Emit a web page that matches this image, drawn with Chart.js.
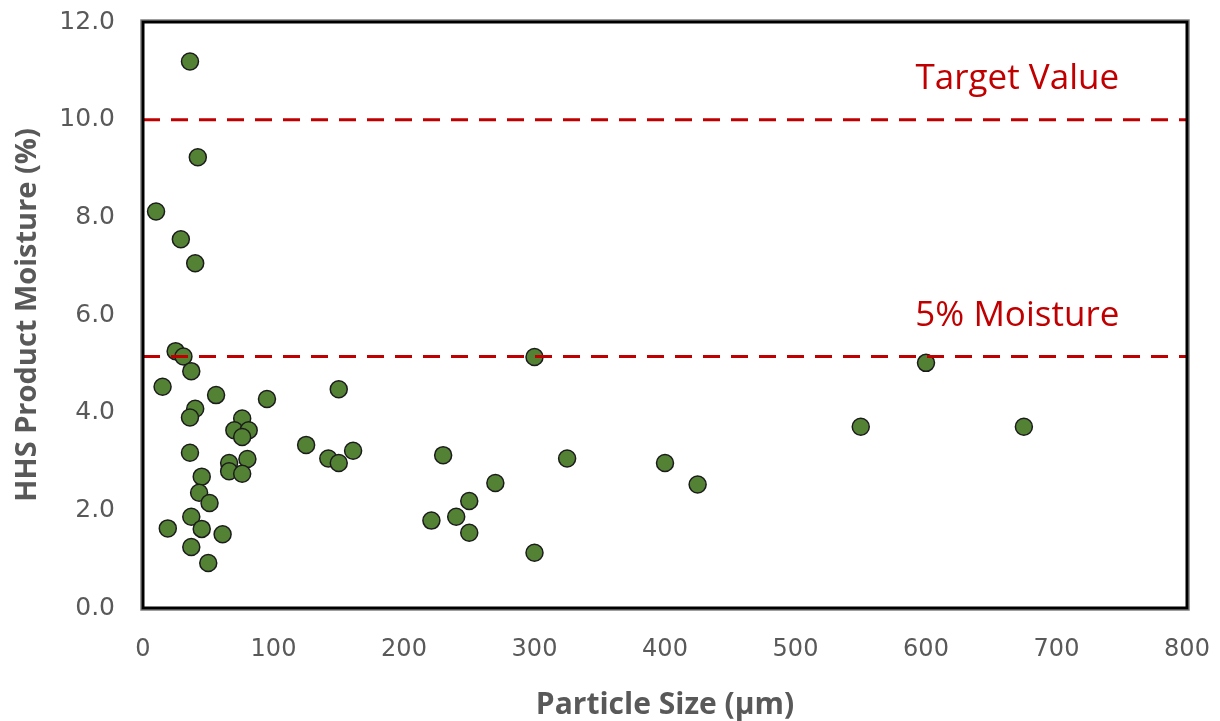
<!DOCTYPE html>
<html>
<head>
<meta charset="utf-8">
<script src="https://cdn.jsdelivr.net/npm/chart.js@4"></script>
<style>
  html, body { margin: 0; background: #fff; }
</style>
</head>
<body>
<canvas id="chart" width="1220" height="721"></canvas>
<script>
// particle size (um) and HHS product moisture (%)
const particleSize = [
  10, 29, 40, 25, 31, 37, 15, 56, 95, 40,
  36, 76, 70, 81, 76, 125, 36, 66, 80, 66,
  76, 45, 43, 51, 37, 19, 45, 61, 37, 50,
  36, 42, 150, 142, 150, 161, 300, 230, 325, 270,
  250, 240, 221, 250, 300, 400, 425, 550, 600, 675
];
const moisture = [
  8.12, 7.55, 7.06, 5.26, 5.15, 4.85, 4.53, 4.36, 4.28, 4.08,
  3.90, 3.88, 3.64, 3.64, 3.50, 3.34, 3.18, 2.97, 3.05, 2.80,
  2.75, 2.69, 2.36, 2.15, 1.87, 1.63, 1.62, 1.51, 1.25, 0.92,
  11.19, 9.23, 4.48, 3.06, 2.97, 3.22, 5.14, 3.13, 3.06, 2.56,
  2.19, 1.87, 1.79, 1.54, 1.13, 2.97, 2.53, 3.71, 5.02, 3.71
];
const refLevels = [10, 5.15];
const refLabels = ['Target Value', '5% Moisture'];
const xRange = [0, 800];
const yRange = [0, 12];

const points = particleSize.map((x, i) => ({ x: x, y: moisture[i] }));

const refSets = refLevels.map(level => ({
  type: 'line',
  data: [{ x: xRange[0], y: level }, { x: xRange[1], y: level }],
  borderColor: '#c00000',
  borderWidth: 3,
  borderDash: [17, 11],
  pointRadius: 0,
  fill: false,
  order: 0
}));

const boxAndLabels = {
  id: 'boxAndLabels',
  afterDatasetsDraw(chart) {
    const ctx = chart.ctx;
    const a = chart.chartArea;
    const xs = chart.scales.x, ys = chart.scales.y;
    ctx.save();
    // plot frame: black with a thin grey edge outside
    ctx.strokeStyle = '#808080';
    ctx.lineWidth = 1.5;
    ctx.strokeRect(a.left - 2, a.top - 2, a.right - a.left + 4, a.bottom - a.top + 4);
    ctx.strokeStyle = '#000';
    ctx.lineWidth = 3;
    ctx.strokeRect(a.left, a.top, a.right - a.left, a.bottom - a.top);
    // labels over the reference lines
    ctx.fillStyle = '#c00000';
    ctx.font = '35px "Open Sans"';
    ctx.textAlign = 'center';
    ctx.textBaseline = 'alphabetic';
    refLevels.forEach((lv, i) => {
      ctx.fillText(refLabels[i], xs.getPixelForValue(670), ys.getPixelForValue(lv) - 31);
    });
    ctx.restore();
  }
};

new Chart(document.getElementById('chart'), {
  type: 'scatter',
  data: {
    datasets: [
      {
        data: points,
        backgroundColor: '#548235',
        borderColor: '#1c1c1c',
        borderWidth: 1.5,
        pointRadius: 8.5,
        pointHoverRadius: 8.5,
        order: 1
      },
      ...refSets
    ]
  },
  options: {
    responsive: false,
    animation: false,
    layout: { padding: { top: 22, right: 33, left: 0, bottom: 0 } },
    plugins: { legend: { display: false }, tooltip: { enabled: false } },
    scales: {
      x: {
        type: 'linear',
        min: xRange[0], max: xRange[1],
        grid: { display: false, drawTicks: false },
        border: { display: false },
        ticks: { stepSize: 100, color: '#595959', padding: 27, font: { family: '"DejaVu Sans"', size: 24 } },
        title: { display: true, text: 'Particle Size (µm)', color: '#595959', font: { family: '"Open Sans"', size: 30, weight: 'bold' }, padding: { top: 4, bottom: -2 } },
        afterFit(s) { s.height = 113; s.paddingLeft = 0; s.paddingRight = 0; }
      },
      y: {
        min: yRange[0], max: yRange[1],
        grid: { display: false, drawTicks: false },
        border: { display: false },
        ticks: { stepSize: 2, color: '#595959', padding: 28, font: { family: '"DejaVu Sans"', size: 25 }, callback: v => v.toFixed(1) },
        title: { display: true, text: 'HHS Product Moisture (%)', color: '#595959', font: { family: '"Open Sans"', size: 29, weight: 'bold' }, padding: { top: 10, bottom: 4 } },
        afterFit(s) { s.width = 143; s.paddingTop = 0; s.paddingBottom = 0; }
      }
    }
  },
  plugins: [boxAndLabels]
});
</script>
</body>
</html>
